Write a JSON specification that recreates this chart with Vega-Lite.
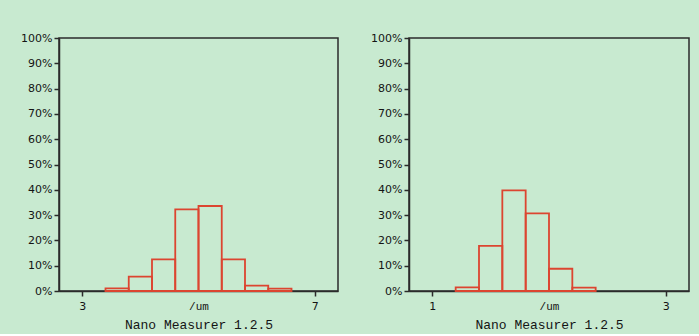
{
  "$schema": "https://vega.github.io/schema/vega-lite/v6.json",
  "background": "#c8ead0",
  "padding": {"left": 19, "top": 31, "right": 10, "bottom": 2},
  "autosize": {"type": "pad"},
  "datasets": {
    "bins": [
      {"panel": "A", "x0": 3.4, "x1": 3.8, "pct": 1.0},
      {"panel": "A", "x0": 3.8, "x1": 4.2, "pct": 5.7},
      {"panel": "A", "x0": 4.2, "x1": 4.6, "pct": 12.5},
      {"panel": "A", "x0": 4.6, "x1": 5.0, "pct": 32.3},
      {"panel": "A", "x0": 5.0, "x1": 5.4, "pct": 33.6},
      {"panel": "A", "x0": 5.4, "x1": 5.8, "pct": 12.5},
      {"panel": "A", "x0": 5.8, "x1": 6.2, "pct": 2.1},
      {"panel": "A", "x0": 6.2, "x1": 6.6, "pct": 0.9},
      {"panel": "B", "x0": 1.2, "x1": 1.4, "pct": 1.45},
      {"panel": "B", "x0": 1.4, "x1": 1.6, "pct": 17.8},
      {"panel": "B", "x0": 1.6, "x1": 1.8, "pct": 39.8},
      {"panel": "B", "x0": 1.8, "x1": 2.0, "pct": 30.7},
      {"panel": "B", "x0": 2.0, "x1": 2.2, "pct": 8.8},
      {"panel": "B", "x0": 2.2, "x1": 2.4, "pct": 1.3}
    ]
  },
  "config": {
    "view": {"stroke": "#2b2b2b", "strokeWidth": 1.5},
    "axis": {
      "domainColor": "#2b2b2b", "domainWidth": 1.5,
      "tickColor": "#2b2b2b", "tickWidth": 1.5, "tickSize": 5,
      "labelColor": "#141414", "labelFont": "DejaVu Sans", "labelFontSize": 11,
      "grid": false
    }
  },
  "spacing": 30,
  "hconcat": [
    {
      "width": 279, "height": 253,
      "data": {"name": "bins"},
      "transform": [{"filter": "datum.panel == 'A'"}],
      "mark": {"type": "rect", "filled": false, "color": "#dc4530", "strokeWidth": 1.8},
      "encoding": {
        "x": {
          "field": "x0", "type": "quantitative",
          "scale": {"domain": [2.6, 7.4], "nice": false, "zero": false},
          "axis": {
            "values": [3, 5, 7],
            "labelExpr": "datum.value == 5 ? '/um' : datum.label",
            "tickOpacity": {"condition": {"test": "datum.value == 5", "value": 0}, "value": 1},
            "labelFont": {"condition": {"test": "datum.value == 5", "value": "Liberation Mono"}, "value": "DejaVu Sans"},
            "labelPadding": 4,
            "title": "Nano Measurer 1.2.5",
            "titleFont": "Liberation Mono", "titleFontSize": 13, "titleFontWeight": "normal",
            "titleColor": "#141414", "titlePadding": 7
          }
        },
        "x2": {"field": "x1"},
        "y": {
          "field": "pct", "type": "quantitative",
          "scale": {"domain": [0, 100], "nice": false},
          "axis": {"values": [0, 10, 20, 30, 40, 50, 60, 70, 80, 90, 100], "labelExpr": "datum.value + '%'", "title": null}
        },
        "y2": {"datum": 0}
      }
    },
    {
      "width": 280, "height": 253,
      "data": {"name": "bins"},
      "transform": [{"filter": "datum.panel == 'B'"}],
      "mark": {"type": "rect", "filled": false, "color": "#dc4530", "strokeWidth": 1.8},
      "encoding": {
        "x": {
          "field": "x0", "type": "quantitative",
          "scale": {"domain": [0.8, 3.2], "nice": false, "zero": false},
          "axis": {
            "values": [1, 2, 3],
            "labelExpr": "datum.value == 2 ? '/um' : datum.label",
            "tickOpacity": {"condition": {"test": "datum.value == 2", "value": 0}, "value": 1},
            "labelFont": {"condition": {"test": "datum.value == 2", "value": "Liberation Mono"}, "value": "DejaVu Sans"},
            "labelPadding": 4,
            "title": "Nano Measurer 1.2.5",
            "titleFont": "Liberation Mono", "titleFontSize": 13, "titleFontWeight": "normal",
            "titleColor": "#141414", "titlePadding": 7
          }
        },
        "x2": {"field": "x1"},
        "y": {
          "field": "pct", "type": "quantitative",
          "scale": {"domain": [0, 100], "nice": false},
          "axis": {"values": [0, 10, 20, 30, 40, 50, 60, 70, 80, 90, 100], "labelExpr": "datum.value + '%'", "title": null}
        },
        "y2": {"datum": 0}
      }
    }
  ]
}
